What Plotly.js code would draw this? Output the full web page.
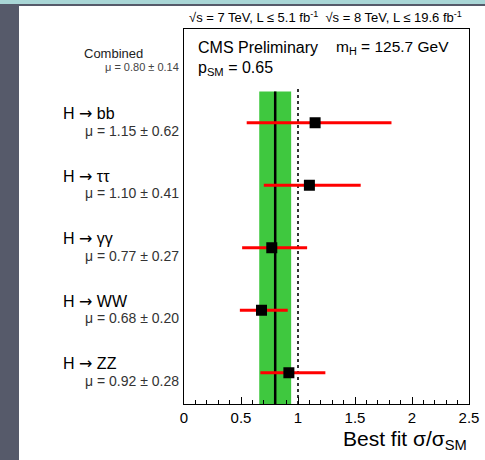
<!DOCTYPE html>
<html>
<head>
<meta charset="utf-8">
<script src="https://cdn.plot.ly/plotly-3.0.1.min.js"></script>
<style>
  html, body { margin:0; padding:0; width:485px; height:460px; overflow:hidden; background:#565a6a; }
  #top { position:absolute; left:0; top:0; width:485px; height:4px; background:#a9d6d6; }
  #panel { position:absolute; left:19px; top:6px; width:466px; height:454px; background:#ffffff; }
  #chart { position:absolute; left:0; top:0; width:485px; height:460px; }
</style>
</head>
<body>
<div id="top"></div>
<div id="panel"></div>
<div id="chart"></div>
<script>
// ---- data ----
const channels = ['H → bb', 'H → ττ', 'H → γγ', 'H → WW', 'H → ZZ'];
const channelPos = [4, 3, 2, 1, 0];
const muValue = [1.15, 1.10, 0.77, 0.68, 0.92];
const muError = [0.62, 0.41, 0.27, 0.20, 0.28];
const errPlus = [0.67, 0.45, 0.31, 0.23, 0.32];
const errMinus = [0.60, 0.40, 0.26, 0.19, 0.25];
const combinedName = 'Combined';
const combinedPos = 5;
const combinedMu = 0.80;
const combinedErr = 0.14;
const smValue = 1.0;
const pSM = 0.65;
const mH = 125.7;
const xTickVals = [0, 0.5, 1, 1.5, 2, 2.5];
const xTickText = ['0', '0.5', '1', '1.5', '2', '2.5'];

const FONT = 'Liberation Sans, Arial, Helvetica, sans-serif';

function nameHTML(s) {
  return s.replace('→', '<span style="font-family:DejaVu Sans">→</span>');
}

const trace = {
  type: 'scatter', mode: 'markers',
  x: muValue, y: channelPos,
  marker: { symbol: 'square', size: 11, color: '#000000' },
  error_x: { type: 'data', symmetric: false, array: errPlus, arrayminus: errMinus,
             color: '#ff0000', thickness: 3, width: 0 },
  hoverinfo: 'skip', showlegend: false
};

const annotations = [];
channels.forEach((c, i) => {
  annotations.push({ xref: 'paper', yref: 'y', x: -0.432, y: channelPos[i], xanchor: 'left', yanchor: 'middle',
    yshift: 9, text: nameHTML(c), showarrow: false, font: { family: FONT, size: 16, color: '#000' } });
  annotations.push({ xref: 'paper', yref: 'y', x: -0.012, y: channelPos[i], xanchor: 'right', yanchor: 'middle',
    yshift: -8, text: 'μ = ' + muValue[i].toFixed(2) + ' ± ' + muError[i].toFixed(2), showarrow: false,
    font: { family: FONT, size: 14, color: '#333' } });
});
annotations.push({ xref: 'paper', yref: 'y', x: -0.246, y: combinedPos, xanchor: 'center', yanchor: 'middle',
  yshift: 7, text: combinedName, showarrow: false, font: { family: FONT, size: 13, color: '#222' } });
annotations.push({ xref: 'paper', yref: 'y', x: -0.012, y: combinedPos, xanchor: 'right', yanchor: 'middle',
  yshift: -7, text: 'μ = ' + combinedMu.toFixed(2) + ' ± ' + combinedErr.toFixed(2), showarrow: false,
  font: { family: FONT, size: 11, color: '#444' } });
annotations.push({ xref: 'paper', yref: 'paper', x: 0.495, y: 1, xanchor: 'center', yanchor: 'bottom', yshift: 2,
  text: '√s = 7 TeV, L ≤ 5.1 fb<sup>-1</sup>  √s = 8 TeV, L ≤ 19.6 fb<sup>-1</sup>', showarrow: false,
  font: { family: FONT, size: 13, color: '#000' } });
annotations.push({ xref: 'paper', yref: 'paper', x: 0.043, y: 0.95, xanchor: 'left', yanchor: 'middle',
  text: 'CMS Preliminary', showarrow: false, font: { family: FONT, size: 16, color: '#000' } });
annotations.push({ xref: 'paper', yref: 'paper', x: 0.527, y: 0.95, xanchor: 'left', yanchor: 'middle',
  text: 'm<sub>H</sub> = ' + mH + ' GeV', showarrow: false, font: { family: FONT, size: 15.5, color: '#000' } });
annotations.push({ xref: 'paper', yref: 'paper', x: 0.043, y: 0.895, xanchor: 'left', yanchor: 'middle',
  text: 'p<sub>SM</sub> = ' + pSM, showarrow: false, font: { family: FONT, size: 16, color: '#000' } });
annotations.push({ xref: 'paper', yref: 'paper', x: 1.0, y: 0, xanchor: 'right', yanchor: 'top', yshift: -21,
  text: 'Best fit σ/σ<sub>SM</sub>', showarrow: false, font: { family: FONT, size: 21, color: '#000' } });

const layout = {
  width: 485, height: 460,
  margin: { l: 184, r: 16, t: 29, b: 56 },
  paper_bgcolor: 'rgba(0,0,0,0)', plot_bgcolor: 'rgba(0,0,0,0)',
  xaxis: {
    range: [0, 2.5], tickvals: xTickVals, ticktext: xTickText,
    ticks: 'inside', ticklen: 7, tickwidth: 1, tickcolor: '#000',
    minor: { dtick: 0.1, ticks: 'inside', ticklen: 4, tickwidth: 1, tickcolor: '#000', showgrid: false },
    showline: true, linecolor: '#000', linewidth: 1, mirror: true,
    showgrid: false, zeroline: false, fixedrange: true,
    tickfont: { family: FONT, size: 15, color: '#000' }
  },
  yaxis: {
    range: [-0.5, 5.5], showticklabels: false, ticks: '',
    showline: true, linecolor: '#000', linewidth: 1, mirror: true,
    showgrid: false, zeroline: false, fixedrange: true
  },
  shapes: [
    { type: 'rect', xref: 'x', yref: 'y', x0: combinedMu - combinedErr, x1: combinedMu + combinedErr,
      y0: -0.5, y1: 4.5, fillcolor: '#3fc83f', line: { width: 0 }, layer: 'below' },
    { type: 'line', xref: 'x', yref: 'y', x0: combinedMu, x1: combinedMu, y0: -0.5, y1: 4.5,
      line: { color: '#000', width: 2.5 }, layer: 'below' },
    { type: 'line', xref: 'x', yref: 'y', x0: smValue, x1: smValue, y0: -0.5, y1: 4.55,
      line: { color: '#333', width: 2, dash: 'dot' }, layer: 'below' }
  ],
  annotations: annotations,
  showlegend: false
};

Plotly.newPlot('chart', [trace], layout, { staticPlot: true, displayModeBar: false });
</script>
</body>
</html>
